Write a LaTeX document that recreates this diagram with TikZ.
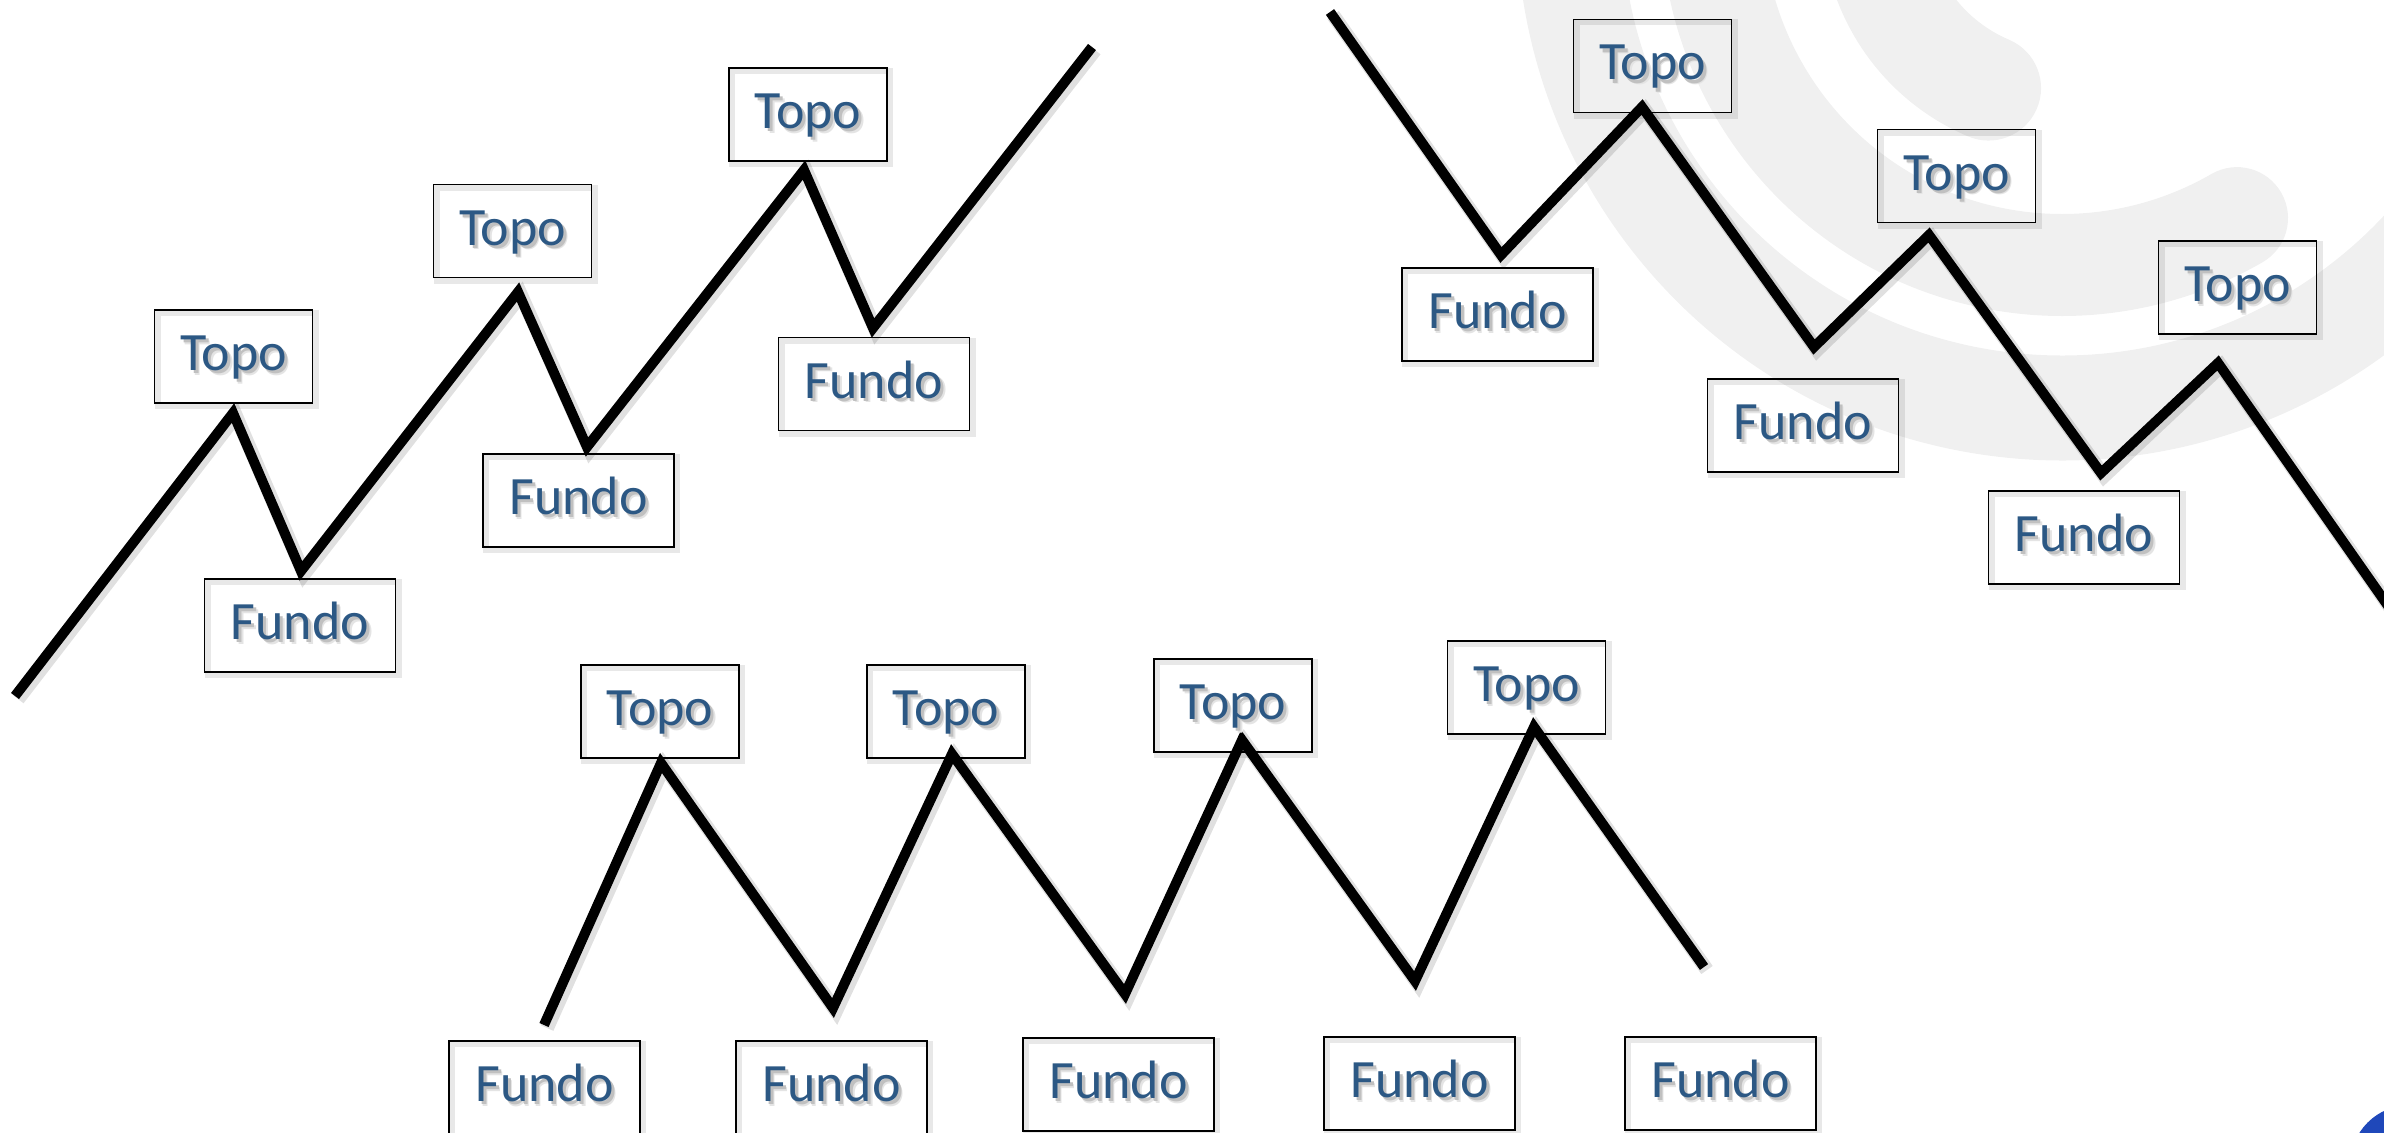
\documentclass[tikz,border=0pt]{standalone}
\usepackage{fontspec}
\setmainfont{Carlito}

\definecolor{labelblue}{RGB}{44,88,132}
\definecolor{markgray}{RGB}{240,240,240}
\definecolor{dotblue}{RGB}{31,72,186}
\definecolor{shadowfar}{RGB}{228,228,228}
\definecolor{shadownear}{RGB}{192,192,192}

% label text with a soft grey drop shadow behind it
\newcommand{\shtext}[1]{%
  \makebox[0pt][l]{\hspace{4.5pt}\raisebox{-4.5pt}{\color{shadowfar}#1}}%
  \makebox[0pt][l]{\hspace{3pt}\raisebox{-3pt}{\color{shadownear}#1}}%
  #1}

\tikzset{
  lbl/.style={draw=black, line width=1.8pt, inner sep=0pt,
    minimum height=93pt, text height=38pt, text depth=10pt,
    font=\fontsize{54}{60}\selectfont, text=labelblue,
    preaction={draw=black, draw opacity=0.09, line width=6pt,
      transform canvas={shift={(3pt,-3pt)}}}},
  topo/.style={lbl, minimum width=158pt},
  fundo/.style={lbl, minimum width=191pt},
  trend/.style={draw=black, line width=10pt, line join=miter,
    preaction={draw=black, draw opacity=0.12, line width=14pt,
      transform canvas={shift={(3pt,-3pt)}}}},
  band/.style={draw=markgray, line cap=round},
}

\begin{document}
\begin{tikzpicture}[x=1pt, y=-1pt]
\useasboundingbox (0,0) rectangle (2384,1132);
\clip (0,0) rectangle (2384,1132);

% background logo: three concentric arcs
\coordinate (wm) at (2062,-85);
\draw[band, line width=105pt] ([shift={(185:493)}]wm) arc[start angle=185, end angle=20, radius=493];
\draw[band, line width=102pt] ([shift={(190:350)}]wm) arc[start angle=190, end angle=60, radius=350];
\draw[band, line width=105pt] ([shift={(190:188)}]wm) arc[start angle=190, end angle=113, radius=188];

% corner dot
\fill[dotblue] (2410,1165) circle[radius=60];

% ---- uptrend ----
\coordinate (u0) at (15,696);
\coordinate (u1) at (233,413);
\coordinate (u2) at (301,571);
\coordinate (u3) at (518,292);
\coordinate (u4) at (587,447);
\coordinate (u5) at (804,170);
\coordinate (u6) at (873,328);
\coordinate (u7) at (1092,47);
\draw[trend] (u0) -- (u1) -- (u2) -- (u3) -- (u4) -- (u5) -- (u6) -- (u7);

\node[topo]  (ut1) at (233.5,356.5) {\shtext{Topo}};
\node[fundo] (uf1) at (300,625.5)   {\shtext{Fundo}};
\node[topo]  (ut2) at (512.5,231)   {\shtext{Topo}};
\node[fundo] (uf2) at (578.5,500.5) {\shtext{Fundo}};
\node[topo]  (ut3) at (808,114.5)   {\shtext{Topo}};
\node[fundo] (uf3) at (874,384)     {\shtext{Fundo}};

% ---- downtrend ----
\coordinate (d0) at (1330,12);
\coordinate (d1) at (1501,255);
\coordinate (d2) at (1642,107);
\coordinate (d3) at (1814,347);
\coordinate (d4) at (1929,235);
\coordinate (d5) at (2101,473);
\coordinate (d6) at (2218,363);
\coordinate (d7) at (2400,623);
\draw[trend] (d0) -- (d1) -- (d2) -- (d3) -- (d4) -- (d5) -- (d6) -- (d7);

\node[topo]  (dt1) at (1652.5,66)    {\shtext{Topo}};
\node[fundo] (df1) at (1497.5,314.5) {\shtext{Fundo}};
\node[topo]  (dt2) at (1956.5,176)   {\shtext{Topo}};
\node[fundo] (df2) at (1803,425.5)   {\shtext{Fundo}};
\node[topo]  (dt3) at (2237.5,287.5) {\shtext{Topo}};
\node[fundo] (df3) at (2084,537.5)   {\shtext{Fundo}};

% ---- sideways market ----
\coordinate (s0) at (544,1025);
\coordinate (s1) at (661,763);
\coordinate (s2) at (833,1008);
\coordinate (s3) at (952,754);
\coordinate (s4) at (1125,994);
\coordinate (s5) at (1242,740);
\coordinate (s6) at (1415,981);
\coordinate (s7) at (1534,727);
\coordinate (s8) at (1704,967);
\draw[trend] (s0) -- (s1) -- (s2) -- (s3) -- (s4) -- (s5) -- (s6) -- (s7) -- (s8);

\node[topo] (st1) at (660,711.5)    {\shtext{Topo}};
\node[topo] (st2) at (946,711.5)    {\shtext{Topo}};
\node[topo] (st3) at (1233,705.5)   {\shtext{Topo}};
\node[topo] (st4) at (1526.5,687.5) {\shtext{Topo}};
\node[fundo] (sf1) at (544.5,1087.5)  {\shtext{Fundo}};
\node[fundo] (sf2) at (831.5,1087.5)  {\shtext{Fundo}};
\node[fundo] (sf3) at (1118.5,1084.5) {\shtext{Fundo}};
\node[fundo] (sf4) at (1419.5,1083.5) {\shtext{Fundo}};
\node[fundo] (sf5) at (1720.5,1083.5) {\shtext{Fundo}};
\end{tikzpicture}
\end{document}
